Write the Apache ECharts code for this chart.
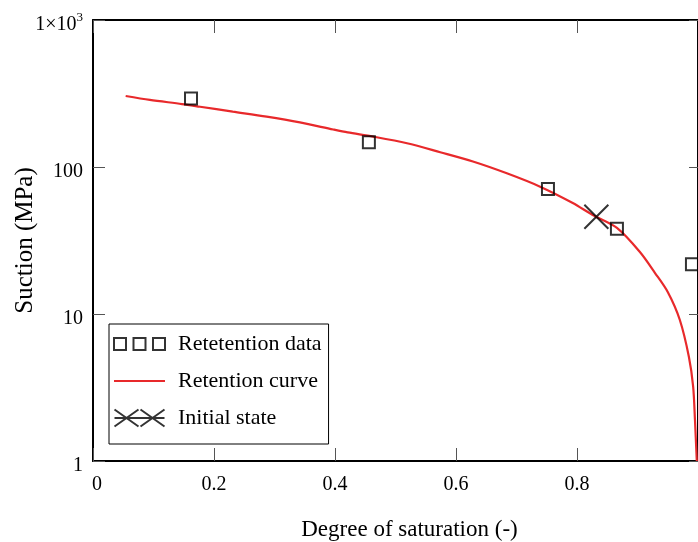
<!DOCTYPE html>
<html>
<head>
<meta charset="utf-8">
<script src="https://cdn.jsdelivr.net/npm/echarts@6/dist/echarts.min.js"></script>
<style>html,body{margin:0;padding:0;background:#fff;}#c{width:698px;height:542px;}</style>
</head>
<body>
<div id="c"></div>
<script>
// Retention data (squares)
var dataSat = [0.162, 0.456, 0.752, 0.866, 0.990];
var dataSuction = [292, 147.5, 70.8, 38.0, 21.8];
// Retention curve (red line)
var curveSat = [0.054, 0.094, 0.147, 0.177, 0.231, 0.287, 0.342, 0.397, 0.421, 0.463, 0.519, 0.574, 0.628, 0.684, 0.739, 0.793, 0.826, 0.866, 0.904, 0.929, 0.950, 0.970, 0.985, 0.992, 0.995, 0.998];
var curveSuction = [304, 286, 268, 257, 238, 220, 201, 180, 172, 161, 145, 126, 109, 90.6, 73.5, 56.9, 47.1, 38.5, 26.4, 19.0, 14.1, 9.1, 5.1, 3.2, 1.9, 1.0];
// Initial state (cross)
var initSat = [0.832];
var initSuction = [45.9];
// Tick labels
var xTickValues = [0, 0.2, 0.4, 0.6, 0.8];
var yTickValues = [1, 10, 100, 1000];
var yTickLabels = ['1', '10', '100', '1×10³'];

var FONT = 'Liberation Serif';
function zip(a, b) { return a.map(function (v, i) { return [v, b[i]]; }); }

var chart = echarts.init(document.getElementById('c'), null, { renderer: 'canvas' });
var axisLineStyle = { color: '#000', width: 2 };
var tickStyle = { color: '#555', width: 1 };

chart.setOption({
  backgroundColor: '#fff',
  animation: false,
  grid: { left: 93, top: 20, width: 605, height: 441, containLabel: false, outerBoundsMode: 'none' },
  legend: {
    orient: 'vertical',
    left: 109,
    top: 324,
    backgroundColor: '#fff',
    borderColor: '#000',
    borderWidth: 1,
    borderRadius: 0,
    padding: [9, 7, 15, 4],
    itemWidth: 51,
    itemHeight: 17,
    itemGap: 15,
    textStyle: { fontFamily: FONT, fontSize: 22, color: '#000', padding: [0, 0, 0, 8] },
    data: [
      { name: 'Retetention data', icon: 'path://M0,0h12v12h-12zM19.5,0h12v12h-12zM39,0h12v12h-12z' },
      { name: 'Retention curve', icon: 'path://M0,0h51v2.2h-51z', itemStyle: { color: '#e8292b', borderWidth: 0 } },
      { name: 'Initial state', icon: 'path://M0,0L24,17M0,17L24,0M26,0L50,17M26,17L50,0M0,8.5L50,8.5' }
    ]
  },
  xAxis: [{
    type: 'value', min: 0, max: 1, interval: 0.2, position: 'bottom',
    name: 'Degree of saturation (-)', nameLocation: 'middle', nameGap: 57, nameMoveOverlap: false,
    nameTextStyle: { fontFamily: FONT, fontSize: 23, color: '#000', padding: [0, 0, 0, 28] },
    axisLine: { show: true, onZero: false, lineStyle: axisLineStyle },
    axisTick: { show: true, inside: true, length: 13, lineStyle: tickStyle },
    axisLabel: {
      fontFamily: FONT, fontSize: 20, color: '#000', margin: 14, showMaxLabel: false,
      formatter: function (v) {
        if (xTickValues.indexOf(v) < 0) return '';
        return v === 0 ? '{z|0}' : String(v);
      },
      rich: { z: { fontFamily: FONT, fontSize: 20, color: '#000', padding: [0, 0, 0, 8] } }
    },
    splitLine: { show: false }
  }, {
    type: 'value', min: 0, max: 1, interval: 0.2, position: 'top',
    axisLine: { show: true, onZero: false, lineStyle: axisLineStyle },
    axisTick: { show: true, inside: true, length: 13, lineStyle: tickStyle },
    axisLabel: { show: false },
    splitLine: { show: false }
  }],
  yAxis: [{
    type: 'log', logBase: 10, min: 1, max: 1000, position: 'left',
    name: 'Suction (MPa)', nameLocation: 'middle', nameGap: 55, nameRotate: 90, nameMoveOverlap: false,
    nameTextStyle: { fontFamily: FONT, fontSize: 25, color: '#000' },
    axisLine: { show: true, onZero: false, lineStyle: axisLineStyle },
    axisTick: { show: true, inside: true, length: 12, lineStyle: tickStyle },
    minorTick: { show: false },
    axisLabel: {
      fontFamily: FONT, fontSize: 20, color: '#000', margin: 10, padding: [9, 0, 0, 0],
      formatter: function (v) {
        var i = yTickValues.indexOf(Math.round(v));
        if (i < 0) return '';
        if (yTickValues[i] === 1000) return '{m|1×10}{s|3}';
        return yTickLabels[i];
      },
      rich: {
        m: { fontFamily: FONT, fontSize: 20, color: '#000' },
        s: { fontFamily: FONT, fontSize: 13, color: '#000', padding: [0, 0, 13, 0] }
      }
    },
    splitLine: { show: false }
  }, {
    type: 'log', logBase: 10, min: 1, max: 1000, position: 'right',
    axisLine: { show: true, onZero: false, lineStyle: axisLineStyle },
    axisTick: { show: true, inside: true, length: 9, lineStyle: tickStyle },
    axisLabel: { show: false },
    splitLine: { show: false }
  }],
  series: [{
    name: 'Retention curve', type: 'line', xAxisIndex: 0, yAxisIndex: 0,
    data: zip(curveSat, curveSuction), showSymbol: false, symbol: 'none', smooth: 0.3,
    lineStyle: { color: '#e8292b', width: 2.2 }, itemStyle: { color: '#e8292b' }, z: 2
  }, {
    name: 'Retetention data', type: 'scatter', xAxisIndex: 0, yAxisIndex: 0,
    data: zip(dataSat, dataSuction), symbol: 'rect', symbolSize: 12,
    itemStyle: { color: 'transparent', borderColor: '#000', borderWidth: 2 }, z: 3
  }, {
    name: 'Initial state', type: 'scatter', xAxisIndex: 0, yAxisIndex: 0,
    data: zip(initSat, initSuction), symbol: 'path://M0,0L24,17M0,17L24,0', symbolSize: [24, 24],
    itemStyle: { color: 'transparent', borderColor: '#000', borderWidth: 2 }, z: 4
  }]
});
</script>
</body>
</html>
